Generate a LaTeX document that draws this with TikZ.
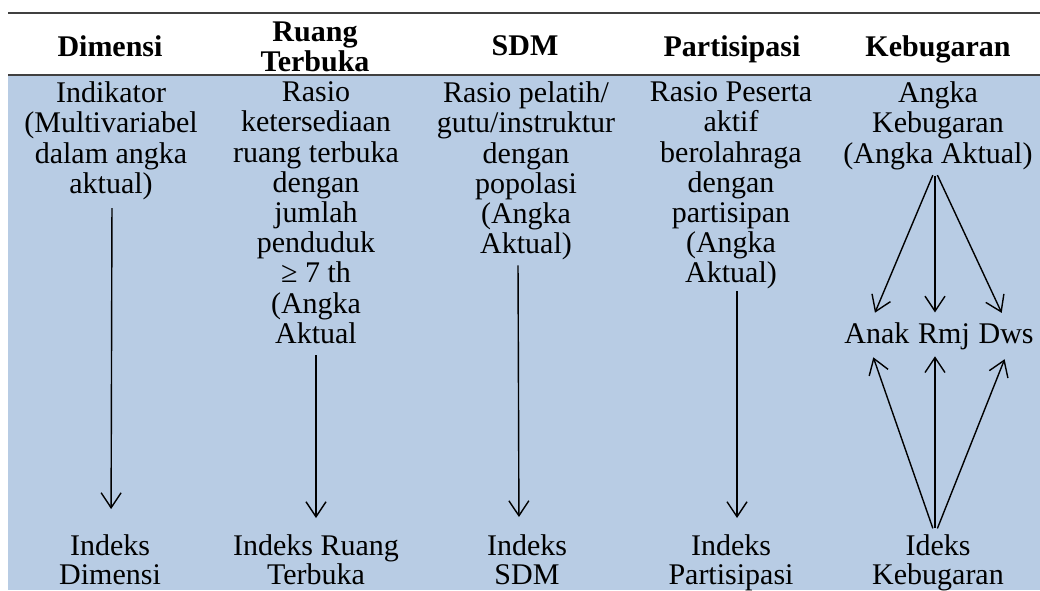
\documentclass[tikz,border=0pt]{standalone}
\usepackage{fontspec}
\setmainfont{Liberation Serif}
\usetikzlibrary{arrows.meta,positioning}
\definecolor{bodyblue}{HTML}{B8CCE4}
\definecolor{rulegray}{HTML}{404040}
\tikzset{
  txt/.style={inner sep=0pt,align=center,anchor=north,font=\fontsize{15}{15.1}\selectfont},
  head/.style={txt,font=\fontsize{15}{15.1}\selectfont\bfseries},
  low/.style={txt,font=\fontsize{15}{14.4}\selectfont},
  word/.style={inner sep=0pt,font=\fontsize{15}{15}\selectfont,text height=10.25pt,text depth=3.3pt},
  link/.style={-{Straight Barb[length=7.5pt,width=10pt]},line width=0.7pt},
}
\begin{document}
\begin{tikzpicture}[x=0.5pt,y=-0.5pt]
\useasboundingbox (0,0) rectangle (1040,590);
\fill[bodyblue] (8,75) rectangle (1040,590);
\draw[rulegray,line width=0.7pt](8,13)--(1040,13);
\draw[rulegray,line width=1pt](8,75)--(1040,75);
% kepala tabel
\node[head] (hdim) at (110,35) {Dimensi};
\node[head] (hruang) at (315,21.5) {Ruang\\Terbuka};
\node[head] (hsdm) at (525,35) {SDM};
\node[head] (hpart) at (732,35) {Partisipasi};
\node[head] (hkeb) at (938,35) {Kebugaran};
% indikator
\node[txt] (ind) at (111,81.5) {Indikator\\(Multivariabel\\dalam angka\\aktual)};
\node[txt] (rasio) at (316,81.5) {Rasio\\ketersediaan\\ruang terbuka\\dengan\\jumlah\\penduduk\\≥ 7 th\\(Angka\\Aktual};
\node[txt] (pelatih) at (526,81.5) {Rasio pelatih/\\gutu/instruktur\\dengan\\popolasi\\(Angka\\Aktual)};
\node[txt] (peserta) at (731,81.5) {Rasio Peserta\\aktif\\berolahraga\\dengan\\partisipan\\(Angka\\Aktual)};
\node[txt] (angka) at (938,81.5) {Angka\\Kebugaran\\(Angka Aktual)};
% kelompok umur
\node[word,anchor=base] (rmj) at (944,343.3) {Rmj};
\node[word,left=4pt of rmj] (anak) {Anak};
\node[word,right=4pt of rmj] (dws) {Dws};
% indeks
\node[low] (idim) at (110,534.5) {Indeks\\Dimensi};
\node[low] (iruang) at (316,534.5) {Indeks Ruang\\Terbuka};
\node[low] (isdm) at (527,534.5) {Indeks\\SDM};
\node[low] (ipart) at (731,534.5) {Indeks\\Partisipasi};
\node[low] (ikeb) at (938,534.5) {Ideks\\Kebugaran};
% panah
\draw[link,shorten <=4pt,shorten >=12.75pt]([xshift=0.5pt]ind.south)--([xshift=0.5pt]idim.north);
\draw[link,shorten <=5.7pt,shorten >=8.25pt](rasio.south)--(iruang.north);
\draw[link,shorten <=2.4pt,shorten >=8.75pt]([xshift=-4pt]pelatih.south)--([xshift=-4pt]isdm.north);
\draw[link,shorten <=0.8pt,shorten >=8.25pt]([xshift=3pt]peserta.south)--([xshift=3pt]ipart.north);
\draw[link,shorten <=2.8pt,shorten >=5.25pt]([xshift=-1.5pt]angka.south)--([xshift=-3pt]anak.north);
\draw[link,shorten <=2.8pt,shorten >=5pt]([xshift=-1.5pt]angka.south)--([xshift=-1.5pt]angka.south |- rmj.north);
\draw[link,shorten <=2.8pt,shorten >=5.25pt]([xshift=-1.5pt]angka.south)--(dws.north);
\draw[link,shorten <=3.25pt,shorten >=3.7pt]([xshift=-1.5pt]ikeb.north)--([xshift=-3pt]anak.south);
\draw[link,shorten <=3.25pt,shorten >=3pt]([xshift=-1.5pt]ikeb.north)--([xshift=-1.5pt]ikeb.north |- rmj.south);
\draw[link,shorten <=3.25pt,shorten >=4.8pt]([xshift=-1.5pt]ikeb.north)--([xshift=1pt]dws.south);
\end{tikzpicture}
\end{document}
